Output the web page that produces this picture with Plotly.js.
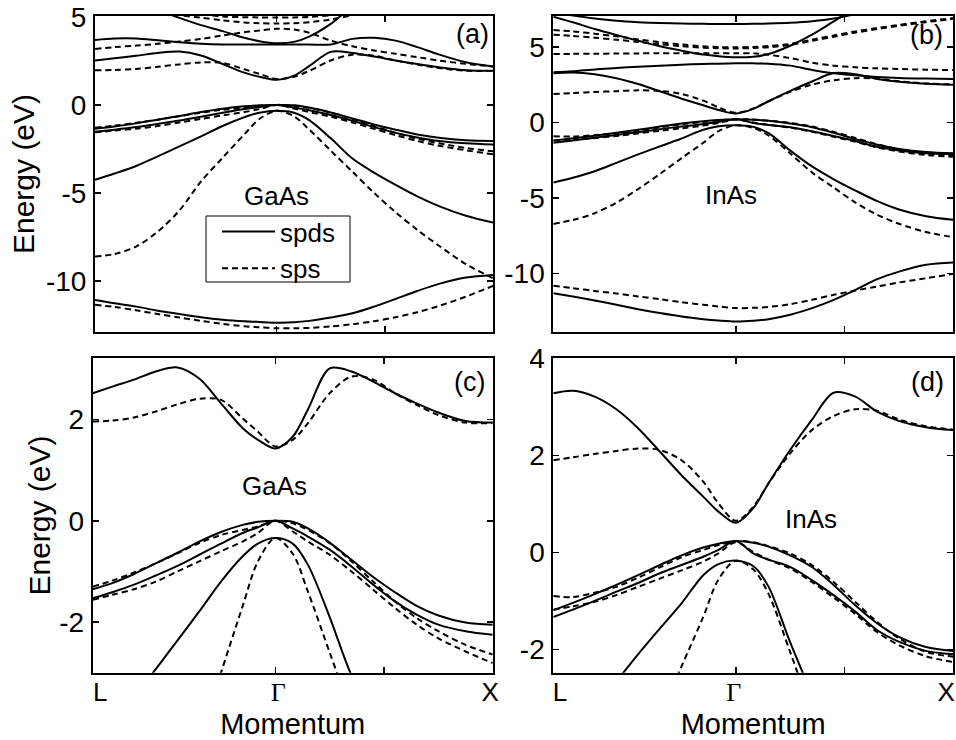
<!DOCTYPE html>
<html>
<head>
<meta charset="utf-8">
<script src="https://cdn.plot.ly/plotly-3.0.1.min.js"></script>
<style>html,body{margin:0;padding:0;background:#fff;}#chart{width:956px;height:740px;}</style>
</head>
<body>
<div id="chart"></div>
<script>
// Momentum grid: L = -0.84, Gamma = 0, X = 1
const xs = [-0.84, -0.75, -0.65, -0.55, -0.45, -0.35, -0.25, -0.15, -0.08, 0, 0.08, 0.15, 0.25, 0.35, 0.45, 0.55, 0.65, 0.75, 0.875, 1.0];

// GaAs, spds model (solid)
const gaasSpdsS  = [-11.08, -11.27, -11.46, -11.69, -11.88, -12.06, -12.20, -12.29, -12.33, -12.37, -12.35, -12.27, -12.08, -11.84, -11.46, -11.02, -10.57, -10.17, -9.81, -9.66];
const gaasSpdsSO = [-4.26, -3.9, -3.47, -2.93, -2.36, -1.79, -1.20, -0.70, -0.45, -0.34, -0.45, -0.87, -1.9, -3.05, -3.85, -4.55, -5.2, -5.75, -6.3, -6.69];
const gaasSpdsLH = [-1.53, -1.41, -1.26, -1.08, -0.89, -0.67, -0.45, -0.24, -0.13, 0, -0.15, -0.31, -0.57, -0.90, -1.26, -1.59, -1.85, -2.05, -2.18, -2.25];
const gaasSpdsHH = [-1.35, -1.23, -1.05, -0.84, -0.63, -0.41, -0.22, -0.08, -0.02, 0, -0.02, -0.15, -0.43, -0.77, -1.11, -1.41, -1.68, -1.87, -2.01, -2.05];
const gaasSpdsC1 = [2.52, 2.65, 2.79, 2.95, 3.03, 2.81, 2.32, 1.83, 1.60, 1.43, 1.66, 2.2, 3.01, 2.95, 2.75, 2.52, 2.32, 2.14, 1.97, 1.94];
const gaasSpdsC2 = [3.69, 3.77, 3.77, 3.67, 3.56, 3.47, 3.43, 3.43, 3.43, 3.43, 3.43, 3.43, 3.43, 3.75, 3.81, 3.65, 3.28, 2.86, 2.42, 2.18];
const gaasSpdsC3 = [6.3, 6.1, 5.8, 5.4, 4.94, 4.53, 4.19, 3.81, 3.62, 3.5, 3.58, 3.88, 4.6, 5.6, 6.3, 6.8, 7.2, 7.5, 7.8, 8.0];

// GaAs, sps model (dashed)
const gaasSpsS  = [-11.36, -11.48, -11.67, -11.88, -12.08, -12.27, -12.44, -12.58, -12.63, -12.69, -12.69, -12.67, -12.59, -12.46, -12.29, -12.06, -11.78, -11.42, -10.89, -10.28];
const gaasSpsSO = [-8.62, -8.47, -8.05, -7.2, -6.0, -4.35, -3.0, -1.68, -0.8, -0.34, -0.65, -1.4, -2.6, -3.8, -5.0, -6.1, -7.1, -8.0, -9.05, -9.85];
const gaasSpsLH = [-1.56, -1.46, -1.35, -1.2, -1.0, -0.80, -0.60, -0.41, -0.24, 0, -0.21, -0.41, -0.67, -1.0, -1.36, -1.72, -2.05, -2.32, -2.58, -2.81];
const gaasSpsHH = [-1.30, -1.18, -1.02, -0.84, -0.64, -0.44, -0.28, -0.18, -0.11, 0, -0.05, -0.18, -0.44, -0.80, -1.20, -1.59, -1.92, -2.18, -2.45, -2.64];
const gaasSpsC1 = [1.96, 1.98, 2.04, 2.16, 2.30, 2.41, 2.39, 2.02, 1.76, 1.47, 1.60, 1.93, 2.52, 2.85, 2.79, 2.52, 2.29, 2.09, 1.94, 1.93];
const gaasSpsC2 = [3.18, 3.28, 3.37, 3.47, 3.6, 3.75, 3.94, 4.13, 4.22, 4.32, 4.28, 4.1, 3.65, 3.33, 3.09, 2.90, 2.71, 2.52, 2.33, 2.18];
const gaasSpsC3 = [5.9, 5.7, 5.5, 5.3, 5.1, 4.95, 4.8, 4.68, 4.64, 4.62, 4.64, 4.7, 4.85, 5.1, 5.4, 5.7, 6.0, 6.3, 6.6, 6.9];
const gaasSpsC4 = [6.5, 6.3, 6.0, 5.7, 5.4, 5.15, 5.02, 4.98, 4.97, 4.96, 4.97, 5.0, 5.1, 5.3, 5.6, 5.9, 6.2, 6.5, 6.8, 7.1];

// InAs, spds model (solid)
const inasSpdsS  = [-11.3, -11.52, -11.78, -12.07, -12.36, -12.62, -12.85, -13.02, -13.11, -13.18, -13.13, -13.02, -12.73, -12.29, -11.74, -11.08, -10.37, -9.87, -9.42, -9.27];
const inasSpdsSO = [-3.97, -3.65, -3.22, -2.66, -2.10, -1.57, -1.05, -0.47, -0.24, -0.17, -0.28, -0.7, -1.85, -2.9, -3.75, -4.5, -5.2, -5.75, -6.2, -6.44];
const inasSpdsLH = [-1.33, -1.18, -1.0, -0.81, -0.63, -0.43, -0.26, -0.09, 0.05, 0.233, -0.02, -0.15, -0.30, -0.57, -0.88, -1.22, -1.60, -1.84, -2.03, -2.10];
const inasSpdsHH = [-1.19, -1.04, -0.86, -0.67, -0.47, -0.26, -0.06, 0.10, 0.18, 0.233, 0.20, 0.12, -0.06, -0.30, -0.67, -1.09, -1.46, -1.74, -1.95, -2.03];
const inasSpdsC1 = [3.28, 3.33, 3.21, 2.95, 2.56, 2.08, 1.59, 1.15, 0.84, 0.61, 0.91, 1.42, 2.11, 2.73, 3.29, 3.21, 2.90, 2.71, 2.58, 2.52];
const inasSpdsC2 = [3.34, 3.40, 3.53, 3.62, 3.71, 3.78, 3.84, 3.89, 3.91, 3.93, 3.93, 3.91, 3.78, 3.49, 3.27, 3.14, 3.03, 2.96, 2.92, 2.9];
const inasSpdsC3 = [7.02, 6.65, 6.21, 5.81, 5.43, 5.06, 4.77, 4.51, 4.4, 4.33, 4.37, 4.55, 5.1, 5.83, 6.71, 7.6, 8.2, 8.7, 9.2, 9.6];
const inasSpdsC4 = [7.3, 7.1, 6.9, 6.75, 6.66, 6.6, 6.57, 6.55, 6.54, 6.54, 6.55, 6.57, 6.62, 6.72, 6.9, 7.2, 7.5, 7.8, 8.1, 8.4];

// InAs, sps model (dashed)
const inasSpsS  = [-10.81, -10.97, -11.15, -11.32, -11.52, -11.7, -11.9, -12.07, -12.18, -12.29, -12.27, -12.21, -12.03, -11.74, -11.41, -11.12, -10.86, -10.59, -10.31, -10.02];
const inasSpsSO = [-6.71, -6.45, -6.0, -5.3, -4.4, -3.4, -2.35, -1.33, -0.56, -0.17, -0.35, -0.85, -2.05, -3.3, -4.3, -5.3, -6.1, -6.7, -7.25, -7.59];
const inasSpsLH = [-1.18, -1.11, -1.02, -0.88, -0.71, -0.54, -0.37, -0.19, -0.02, 0.21, 0.01, -0.15, -0.33, -0.61, -0.93, -1.27, -1.64, -1.91, -2.14, -2.26];
const inasSpsHH = [-0.90, -0.92, -0.83, -0.71, -0.52, -0.31, -0.10, 0.05, 0.15, 0.233, 0.21, 0.13, -0.02, -0.26, -0.61, -1.02, -1.43, -1.77, -2.05, -2.15];
const inasSpsC1 = [1.90, 1.96, 2.03, 2.09, 2.14, 2.11, 1.90, 1.46, 1.01, 0.65, 0.94, 1.42, 2.04, 2.52, 2.81, 2.95, 2.92, 2.74, 2.60, 2.53];
const inasSpsC2 = [4.55, 4.56, 4.57, 4.58, 4.59, 4.6, 4.6, 4.6, 4.6, 4.6, 4.6, 4.5, 4.28, 3.97, 3.78, 3.67, 3.6, 3.56, 3.51, 3.49];
const inasSpsC3 = [6.14, 6.05, 5.9, 5.72, 5.52, 5.33, 5.18, 5.06, 5.01, 5.0, 5.02, 5.08, 5.22, 5.5, 5.78, 6.05, 6.27, 6.48, 6.72, 6.93];
const inasSpsC4 = [5.83, 5.75, 5.63, 5.5, 5.35, 5.2, 5.07, 4.97, 4.93, 4.92, 4.95, 5.0, 5.15, 5.42, 5.7, 5.97, 6.2, 6.42, 6.66, 6.88];

// Momentum tick labels (label anchor positions on the momentum axis)
const kLabelText = ['L', '<span style="font-family:Liberation Serif">Γ</span>', 'X'];
const kLabelPosC = [-0.806, 0.014, 0.988];
const kLabelPosD = [-0.809, -0.009, 0.968];
const seriesNames = ['spds', 'sps'];

const FONT = 'Liberation Sans, Arial, sans-serif';
const traces = [];
const legendShown = {spds: false, sps: false};
function addBand(y, model, xa, ya) {
  const dashed = model === 'sps';
  const show = !legendShown[model] && xa === 'x';
  if (show) legendShown[model] = true;
  traces.push({
    x: xs, y: y, xaxis: xa, yaxis: ya, type: 'scatter', mode: 'lines',
    name: model, showlegend: show,
    line: {color: 'black', width: 2, dash: dashed ? '6px,4px' : 'solid', shape: 'spline', smoothing: 0.9},
    hoverinfo: 'skip'
  });
}
// panel (a): GaAs full
[gaasSpdsS, gaasSpdsSO, gaasSpdsLH, gaasSpdsHH, gaasSpdsC1, gaasSpdsC2, gaasSpdsC3].forEach(b => addBand(b, seriesNames[0], 'x', 'y'));
[gaasSpsS, gaasSpsSO, gaasSpsLH, gaasSpsHH, gaasSpsC1, gaasSpsC2, gaasSpsC3, gaasSpsC4].forEach(b => addBand(b, seriesNames[1], 'x', 'y'));
// panel (b): InAs full
[inasSpdsS, inasSpdsSO, inasSpdsLH, inasSpdsHH, inasSpdsC1, inasSpdsC2, inasSpdsC3, inasSpdsC4].forEach(b => addBand(b, seriesNames[0], 'x2', 'y2'));
[inasSpsS, inasSpsSO, inasSpsLH, inasSpsHH, inasSpsC1, inasSpsC2, inasSpsC3, inasSpsC4].forEach(b => addBand(b, seriesNames[1], 'x2', 'y2'));
// panel (c): GaAs near gap (sps curves on the overlaid label axis x5)
[gaasSpdsSO, gaasSpdsLH, gaasSpdsHH, gaasSpdsC1].forEach(b => addBand(b, seriesNames[0], 'x3', 'y3'));
[gaasSpsSO, gaasSpsLH, gaasSpsHH, gaasSpsC1].forEach(b => addBand(b, seriesNames[1], 'x5', 'y3'));
// panel (d): InAs near gap (sps curves on the overlaid label axis x6)
[inasSpdsSO, inasSpdsLH, inasSpdsHH, inasSpdsC1].forEach(b => addBand(b, seriesNames[0], 'x4', 'y4'));
[inasSpsSO, inasSpsLH, inasSpsHH, inasSpsC1].forEach(b => addBand(b, seriesNames[1], 'x6', 'y4'));

function axisBase(extra) {
  return Object.assign({
    showline: true, linewidth: 2, linecolor: 'black', mirror: 'ticks',
    ticks: 'inside', ticklen: 6, tickwidth: 1.5, tickcolor: 'black',
    showgrid: false, zeroline: false, tickmode: 'array',
    tickfont: {family: FONT, size: 28, color: 'black'}, fixedrange: true
  }, extra);
}
function yTicks(vals) { return {tickvals: vals, ticktext: vals.map(v => String(v))}; }
function ann(text, px, py, size) {
  return {text: text, x: px / 956, y: 1 - py / 740, xref: 'paper', yref: 'paper', xanchor: 'center', yanchor: 'middle',
          showarrow: false, font: {family: FONT, size: size, color: 'black'}};
}
function labelAxis(base, anchor, pos) {
  return {overlaying: base, anchor: anchor, side: 'bottom', range: [-0.84, 1.0], showline: false, showgrid: false,
          zeroline: false, ticks: '', tickmode: 'array', tickvals: pos, ticktext: kLabelText, ticklabelstandoff: 1,
          ticklabeloverflow: 'allow', tickfont: {family: FONT, size: 26, color: 'black'}, fixedrange: true,
          title: {text: 'Momentum', font: {family: FONT, size: 29, color: 'black'}, standoff: 9}};
}

const layout = {
  width: 956, height: 740,
  margin: {l: 0, r: 0, t: 0, b: 0},
  paper_bgcolor: 'white', plot_bgcolor: 'white',
  font: {family: FONT, color: 'black'},
  showlegend: true,
  legend: {x: 217 / 956, y: 1 - 208 / 740, xanchor: 'left', yanchor: 'top', borderwidth: 0,
           bgcolor: 'rgba(0,0,0,0)', font: {family: FONT, size: 26, color: 'black'}, itemwidth: 53, tracegroupgap: 0},
  shapes: [
    {type: 'rect', xref: 'paper', yref: 'paper', x0: 206 / 956, x1: 350 / 956, y0: 1 - 282 / 740, y1: 1 - 216 / 740,
     line: {color: 'black', width: 1}, fillcolor: 'white', layer: 'above'}
  ],
  xaxis:  axisBase({domain: [0.0994, 0.5157], range: [-0.84, 1.0], anchor: 'y',  tickvals: [0, 0.5], showticklabels: false}),
  xaxis2: axisBase({domain: [0.5788, 0.9972], range: [-0.84, 1.0], anchor: 'y2', tickvals: [0, 0.5], showticklabels: false}),
  xaxis3: axisBase({domain: [0.0970, 0.5154], range: [-0.84, 1.0], anchor: 'y3', tickvals: [0, 0.5], showticklabels: false}),
  xaxis4: axisBase({domain: [0.5788, 0.9969], range: [-0.84, 1.0], anchor: 'y4', tickvals: [0, 0.5], showticklabels: false}),
  xaxis5: labelAxis('x3', 'y3', kLabelPosC),
  xaxis6: labelAxis('x4', 'y4', kLabelPosD),
  yaxis:  axisBase(Object.assign({domain: [0.5514, 0.9784], range: [-12.9, 5.05], anchor: 'x', ticklabelstandoff: 1,
           title: {text: 'Energy (eV)', font: {family: FONT, size: 30, color: 'black'}, standoff: 2}}, yTicks([5, 0, -5, -10]))),
  yaxis2: axisBase(Object.assign({domain: [0.5518, 0.9784], range: [-13.85, 7.07], anchor: 'x2', ticklabelstandoff: 1}, yTicks([5, 0, -5, -10]))),
  yaxis3: axisBase(Object.assign({domain: [0.0909, 0.5158], range: [-3.0, 3.21], anchor: 'x3', ticklabelstandoff: 1,
           title: {text: 'Energy (eV)', font: {family: FONT, size: 30, color: 'black'}, standoff: 0}}, yTicks([2, 0, -2]))),
  yaxis4: axisBase(Object.assign({domain: [0.0909, 0.5158], range: [-2.48, 4.0], anchor: 'x4', ticklabelstandoff: 1}, yTicks([4, 2, 0, -2]))),
  annotations: [
    ann('(a)', 472, 34, 27), ann('(b)', 926, 35, 27), ann('(c)', 469, 382, 27), ann('(d)', 927, 382, 27),
    ann('GaAs', 276, 196, 26), ann('InAs', 731, 195, 26), ann('GaAs', 274, 486, 26), ann('InAs', 811, 519, 26)
  ]
};

Plotly.newPlot('chart', traces, layout, {displayModeBar: false, staticPlot: true});
</script>
</body>
</html>
